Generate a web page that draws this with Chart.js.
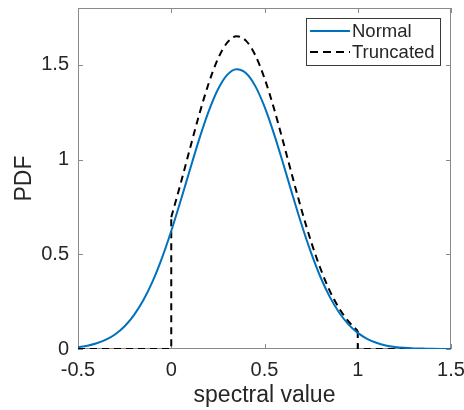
<!DOCTYPE html>
<html>
<head>
<meta charset="utf-8">
<script src="https://cdn.jsdelivr.net/npm/chart.js"></script>
<style>
  html, body { margin: 0; padding: 0; background: #fff; }
  #wrap { width: 464px; height: 410px; }
</style>
</head>
<body>
<div id="wrap"><canvas id="pdfChart" width="464" height="410"></canvas></div>
<script>
// values
const xValues = [-0.5, -0.45, -0.4, -0.35, -0.3, -0.25, -0.2, -0.15, -0.1, -0.05,
    0, 0.05, 0.1, 0.15, 0.2, 0.25, 0.3, 0.35, 0.4, 0.45,
    0.5, 0.55, 0.6, 0.65, 0.7, 0.75, 0.8, 0.85, 0.9, 0.95,
    1, 1.05, 1.1, 1.15, 1.2, 1.25, 1.3, 1.35, 1.4, 1.45, 1.5];
const normalPdf = [0.010, 0.017, 0.030, 0.049, 0.078, 0.120, 0.179, 0.257, 0.357, 0.480,
    0.623, 0.781, 0.946, 1.108, 1.253, 1.370, 1.447, 1.477, 1.457, 1.389,
    1.279, 1.138, 0.979, 0.813, 0.653, 0.507, 0.380, 0.275, 0.193, 0.130,
    0.085, 0.054, 0.033, 0.019, 0.011, 0.006, 0.003, 0.002, 0.001, 0.0004, 0.0002];
// truncated curve on [0, 1]
const truncX = [0, 0.05, 0.1, 0.15, 0.2, 0.25, 0.3, 0.35, 0.4, 0.45,
    0.5, 0.55, 0.6, 0.65, 0.7, 0.75, 0.8, 0.85, 0.9, 0.95, 1];
const truncPdf = [0.696, 0.872, 1.057, 1.238, 1.400, 1.531, 1.617, 1.651, 1.628, 1.552,
    1.429, 1.272, 1.094, 0.909, 0.730, 0.566, 0.425, 0.307, 0.215, 0.146, 0.095];
// the flat zero parts and the two jumps
const edgeX = [-0.5, 0, 0, null, 1, 1, 1.5];
const edgePdf = [0, 0, 0.696, null, 0.095, 0, 0];

const xTicks = [-0.5, 0, 0.5, 1, 1.5];
const yTicks = [0, 0.5, 1, 1.5];
const legendLabels = ['Normal', 'Truncated'];

const blue = '#0072BD';
const axisGray = '#8a8a8a';
const textColor = '#262626';
const fontFamily = '"Liberation Sans", Arial, Helvetica, sans-serif';
const dash = [7, 5];

const pts = (xs, ys) => xs.map((x, i) => x === null ? { x: NaN, y: null } : { x: x, y: ys[i] });

// box around the axes and inward tick marks, like matlab
const boxPlugin = {
    id: 'boxPlugin',
    beforeDatasetsDraw(chart) {
        const { ctx, chartArea: a, scales } = chart;
        ctx.save();
        ctx.strokeStyle = axisGray;
        ctx.lineWidth = 1;
        ctx.strokeRect(a.left + 0.5, a.top + 0.5, a.right - a.left - 1, a.bottom - a.top - 1);
        const tl = 5;
        ctx.beginPath();
        xTicks.forEach(v => {
            const px = Math.round(scales.x.getPixelForValue(v)) + 0.5;
            ctx.moveTo(px, a.bottom); ctx.lineTo(px, a.bottom - tl);
            ctx.moveTo(px, a.top); ctx.lineTo(px, a.top + tl);
        });
        yTicks.forEach(v => {
            const py = Math.round(scales.y.getPixelForValue(v)) + 0.5;
            ctx.moveTo(a.left, py); ctx.lineTo(a.left + tl, py);
            ctx.moveTo(a.right, py); ctx.lineTo(a.right - tl, py);
        });
        ctx.stroke();
        ctx.restore();
    },
    afterDatasetsDraw(chart) {
        // legend box in the top right corner
        const { ctx } = chart;
        const bx = 306.5, by = 18.5, bw = 134, bh = 47;
        ctx.save();
        ctx.fillStyle = '#fff';
        ctx.fillRect(bx, by, bw, bh);
        ctx.strokeStyle = '#3a3a3a';
        ctx.lineWidth = 1;
        ctx.strokeRect(bx, by, bw, bh);
        const rows = [31, 52];
        ctx.lineWidth = 2;
        ctx.strokeStyle = blue;
        ctx.setLineDash([]);
        ctx.beginPath(); ctx.moveTo(310, rows[0]); ctx.lineTo(350, rows[0]); ctx.stroke();
        ctx.strokeStyle = '#000';
        ctx.setLineDash([8, 5]);
        ctx.beginPath(); ctx.moveTo(310, rows[1]); ctx.lineTo(350, rows[1]); ctx.stroke();
        ctx.setLineDash([]);
        ctx.fillStyle = textColor;
        ctx.font = '18.5px ' + fontFamily;
        ctx.textBaseline = 'middle';
        ctx.textAlign = 'left';
        legendLabels.forEach((t, i) => ctx.fillText(t, 352, rows[i] + 1));
        ctx.restore();
    }
};

const fixWidth = w => s => { s.width = w; s.paddingLeft = 0; s.paddingRight = 0; s.paddingTop = 0; s.paddingBottom = 0; };
const fixHeight = h => s => { s.height = h; s.paddingLeft = 0; s.paddingRight = 0; s.paddingTop = 0; s.paddingBottom = 0; };

new Chart(document.getElementById('pdfChart'), {
    type: 'line',
    data: {
        datasets: [
            {
                label: legendLabels[0],
                data: pts(xValues, normalPdf),
                borderColor: blue,
                borderWidth: 2,
                pointRadius: 0,
                cubicInterpolationMode: 'monotone',
                fill: false
            },
            {
                label: legendLabels[1],
                data: pts(truncX, truncPdf),
                borderColor: '#000',
                borderWidth: 2,
                borderDash: dash,
                pointRadius: 0,
                cubicInterpolationMode: 'monotone',
                fill: false
            },
            {
                label: 'edges',
                data: pts(edgeX, edgePdf),
                borderColor: '#000',
                borderWidth: 2,
                borderDash: dash,
                pointRadius: 0,
                tension: 0,
                spanGaps: false,
                fill: false
            }
        ]
    },
    options: {
        responsive: false,
        animation: false,
        events: [],
        layout: { padding: { left: 0, right: 13, top: 8, bottom: 0 } },
        plugins: { legend: { display: false }, tooltip: { enabled: false } },
        scales: {
            x: {
                type: 'linear',
                min: -0.5,
                max: 1.5,
                afterBuildTicks: s => { s.ticks = xTicks.map(v => ({ value: v })); },
                afterFit: fixHeight(61),
                grid: { display: false, drawTicks: false },
                border: { display: false },
                ticks: {
                    color: textColor,
                    padding: 9,
                    maxRotation: 0,
                    font: { size: 20, family: fontFamily },
                    callback: v => String(v)
                },
                title: {
                    display: true,
                    text: 'spectral value',
                    color: textColor,
                    padding: { top: 0, bottom: 1 },
                    font: { size: 23, family: fontFamily }
                }
            },
            y: {
                min: 0,
                max: 1.8,
                afterBuildTicks: s => { s.ticks = yTicks.map(v => ({ value: v })); },
                afterFit: fixWidth(78),
                grid: { display: false, drawTicks: false },
                border: { display: false },
                ticks: {
                    color: textColor,
                    padding: 9,
                    font: { size: 20, family: fontFamily },
                    callback: v => String(v)
                },
                title: {
                    display: true,
                    text: 'PDF',
                    color: textColor,
                    padding: { top: 11, bottom: 0 },
                    font: { size: 23, family: fontFamily }
                }
            }
        }
    },
    plugins: [boxPlugin]
});
</script>
</body>
</html>
